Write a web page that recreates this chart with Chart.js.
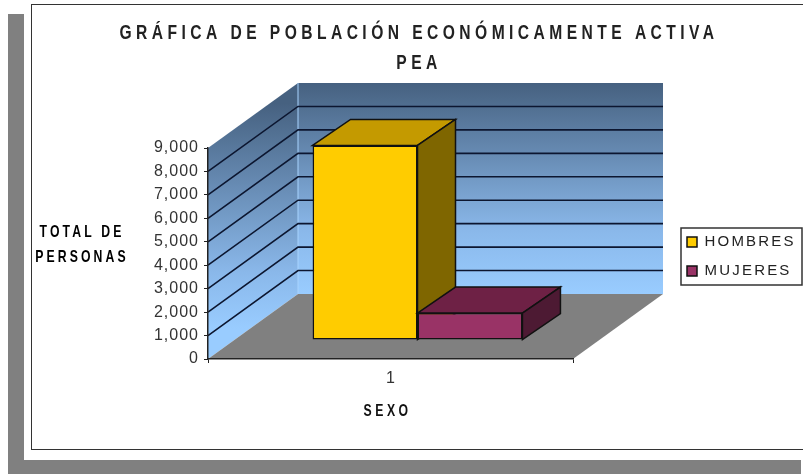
<!DOCTYPE html>
<html>
<head>
<meta charset="utf-8">
<script src="https://cdn.jsdelivr.net/npm/chart.js@4"></script>
<style>
html,body{margin:0;padding:0;background:#fff;overflow:hidden}
#gray{position:absolute;left:8px;top:14px;width:793px;height:460px;background:#808080}
#card{position:absolute;left:24px;top:0;width:779px;height:460px;background:#fff}
#frame{position:absolute;left:31px;top:4px;width:790px;height:444px;border:1.5px solid #333}
canvas{position:absolute;left:0;top:0}
</style>
</head>
<body>
<div id="gray"></div><div id="card"></div><div id="frame"></div>
<canvas id="pea" width="803" height="474"></canvas>
<script>
// datos
const categories = ['1'];
const hombres = [8300];
const mujeres = [1150];
const titleLines = ['GRÁFICA DE POBLACIÓN ECONÓMICAMENTE ACTIVA', 'PEA'];
const yTitleLines = ['TOTAL DE', 'PERSONAS'];
const xTitle = 'SEXO';
const gridValues = [1000, 2000, 3000, 4000, 5000, 6000, 7000, 8000];

// profundidad de la caja 3D y de las barras
const WALL = {dx: 90, dy: -65};
const BAR = {dx: 38, dy: -26, ox: 27, oy: -19};
const faces = [
  {top: '#c49a00', side: '#7f6600'},
  {top: '#6e2145', side: '#4d1a33'}
];
const SANS = "'Liberation Sans',sans-serif";

function poly(ctx, pts, fill, stroke) {
  ctx.beginPath();
  pts.forEach((p, i) => i ? ctx.lineTo(p[0], p[1]) : ctx.moveTo(p[0], p[1]));
  ctx.closePath();
  if (fill) { ctx.fillStyle = fill; ctx.fill(); }
  if (stroke) { ctx.strokeStyle = stroke; ctx.lineWidth = 1.5; ctx.stroke(); }
}

// letra separada y, si hace falta, angosta (sx) alrededor de cx
function spaced(obj, method, px, sx = 1, cx = 0) {
  const orig = obj[method];
  obj[method] = function (...args) {
    const c = this.ctx;
    c.save();
    c.letterSpacing = px + 'px';
    c.translate(cx, 0);
    c.scale(sx, 1);
    c.translate(-cx, 0);
    orig.apply(this, args);
    c.restore();
  };
}

const box3d = {
  id: 'box3d',
  afterLayout(chart) {
    // el titulo y la leyenda no caen donde los pone el layout
    const t = chart.titleBlock;
    t.left = 35; t.right = 803;
    const l = chart.legend;
    l.left = 673; l.right = 802; l.top = 190; l.bottom = 323;
    l.width = 129; l.height = 133;
    if (!chart.$spaced) {
      chart.$spaced = true;
      spaced(t, 'draw', 5.7, 0.78, 419);
      spaced(l, 'draw', 2.2);
      spaced(chart.scales.x, 'drawTitle', 4.9, 0.72, 380);
      spaced(chart.scales.y, 'drawLabels', 1);
    }
  },
  beforeDraw(chart) {
    const {ctx, chartArea: a, scales: {y}} = chart;
    const d = WALL;
    const top = a.top + d.dy, bot = a.bottom + d.dy;
    const grad = ctx.createLinearGradient(0, top, 0, bot);
    grad.addColorStop(0, '#466180');
    grad.addColorStop(0.7, '#8ab8ea');
    grad.addColorStop(1, '#99ccff');
    const sideGrad = ctx.createLinearGradient(0, top + 20, 0, a.bottom - 30);
    sideGrad.addColorStop(0, '#466180');
    sideGrad.addColorStop(0.75, '#8ab8ea');
    sideGrad.addColorStop(1, '#99ccff');
    ctx.save();
    poly(ctx, [[a.left, a.top], [a.left + d.dx, top], [a.left + d.dx, bot], [a.left, a.bottom]], sideGrad);
    poly(ctx, [[a.left + d.dx, top], [a.right + d.dx, top], [a.right + d.dx, bot], [a.left + d.dx, bot]], grad);
    poly(ctx, [[a.left, a.bottom], [a.left + d.dx, bot], [a.right + d.dx, bot], [a.right, a.bottom]], '#808080');
    ctx.strokeStyle = '#a8d4ff';
    ctx.lineWidth = 1;
    ctx.beginPath();
    ctx.moveTo(a.left + d.dx, bot);
    ctx.lineTo(a.left + d.dx, top);
    ctx.stroke();
    ctx.strokeStyle = '#0c1630';
    ctx.lineWidth = 1.6;
    gridValues.forEach(v => {
      const py = y.getPixelForValue(v);
      ctx.beginPath();
      ctx.moveTo(a.left, py);
      ctx.lineTo(a.left + d.dx, py + d.dy);
      ctx.lineTo(a.right + d.dx, py + d.dy);
      ctx.stroke();
    });
    ctx.restore();
  },
  // hombres primero para que la cara superior de mujeres quede encima
  beforeDatasetsDraw(chart) {
    const {ctx} = chart;
    [0, 1].forEach(i => {
      const meta = chart.getDatasetMeta(i);
      const bar = meta.data[0];
      const l = bar.x - bar.width / 2, r = bar.x + bar.width / 2;
      ctx.save();
      ctx.translate(BAR.ox, BAR.oy);
      poly(ctx, [[l, bar.y], [l + BAR.dx, bar.y + BAR.dy], [r + BAR.dx, bar.y + BAR.dy], [r, bar.y]], faces[i].top, '#111');
      poly(ctx, [[r, bar.y], [r + BAR.dx, bar.y + BAR.dy], [r + BAR.dx, bar.base + BAR.dy], [r, bar.base]], faces[i].side, '#111');
      meta.controller.draw();
      ctx.restore();
    });
    return false;
  },
  afterDraw(chart) {
    const {ctx} = chart;
    ctx.save();
    ctx.strokeStyle = '#333';
    ctx.lineWidth = 1.5;
    ctx.strokeRect(681, 228, 121, 57);
    ctx.fillStyle = '#000';
    ctx.font = 'bold 17px ' + SANS;
    ctx.letterSpacing = '4.3px';
    ctx.textAlign = 'center';
    ctx.textBaseline = 'middle';
    ctx.translate(82, 0);
    ctx.scale(0.72, 1);
    yTitleLines.forEach((s, i) => ctx.fillText(s, 0, 232 + i * 25));
    ctx.restore();
  }
};

new Chart(document.getElementById('pea'), {
  type: 'bar',
  data: {
    labels: categories,
    datasets: [
      {label: 'HOMBRES', data: hombres, backgroundColor: '#ffcc00', borderColor: '#111', borderWidth: 1.5, borderSkipped: false},
      {label: 'MUJERES', data: mujeres, backgroundColor: '#993366', borderColor: '#111', borderWidth: 1.5, borderSkipped: false}
    ]
  },
  plugins: [box3d],
  options: {
    responsive: false,
    animation: false,
    layout: {padding: {left: 0, right: 230, top: 0, bottom: 0}},
    datasets: {bar: {barPercentage: 1, categoryPercentage: 0.575}},
    scales: {
      x: {
        afterFit(s) { s.height = 115; },
        grid: {drawOnChartArea: false, color: '#222', tickLength: 4, offset: true},
        border: {color: '#222', width: 1.5},
        ticks: {color: '#333', padding: 6, font: {family: SANS, size: 16}},
        title: {display: true, text: xTitle, color: '#111', padding: {top: 0, bottom: 52}, font: {family: SANS, size: 17, weight: 'bold'}}
      },
      y: {
        min: 0,
        max: 9000,
        afterFit(s) { s.width = 208; },
        grid: {drawOnChartArea: false, color: '#222', tickLength: 4},
        border: {color: '#222', width: 1.5},
        ticks: {stepSize: 1000, color: '#333', padding: 5, font: {family: SANS, size: 16}}
      }
    },
    plugins: {
      tooltip: {enabled: false},
      title: {
        display: true,
        text: titleLines,
        color: '#222',
        padding: {top: 18, bottom: 70},
        font: {family: SANS, size: 20, weight: 'bold', lineHeight: 1.5}
      },
      legend: {
        position: 'chartArea',
        labels: {boxWidth: 10, boxHeight: 10, padding: 14, color: '#222', font: {family: SANS, size: 15}}
      }
    }
  }
});
</script>
</body>
</html>
